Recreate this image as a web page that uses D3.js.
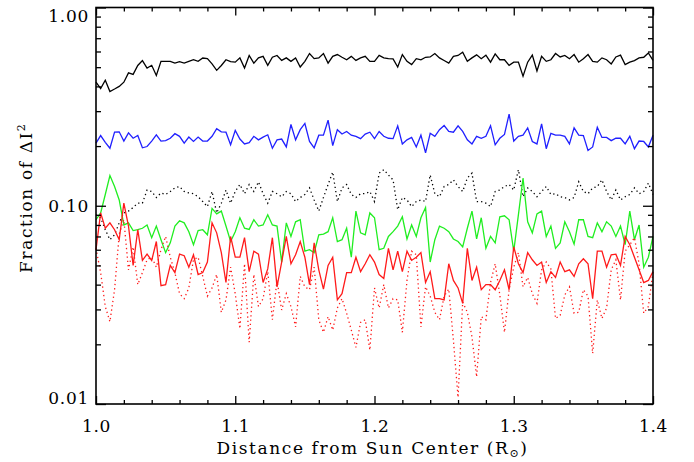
<!DOCTYPE html>
<html>
<head>
<meta charset="utf-8">
<script src="https://cdn.jsdelivr.net/npm/d3@7"></script>
<style>
  body { margin: 0; background: #fff; }
  svg { display: block; }
  .tick text { font-family: "DejaVu Serif", serif; font-size: 17px; letter-spacing: 0.7px; fill: #000; }
</style>
</head>
<body>
<svg id="chart" width="694" height="462"></svg>
<script>
// sampling grid along the radius (R_sun), 121 samples from 1.0 to 1.4
const rStart = 1.0, rEnd = 1.4, nSamples = 121;
const distance = d3.range(nSamples).map(i => rStart + i * (rEnd - rStart) / (nSamples - 1));

// fraction of ΔI²
const blackSolid = [
  0.42,0.39,0.43,0.377,0.388,0.40,0.42,0.468,0.46,0.51,
  0.54,0.495,0.511,0.454,0.535,0.535,0.535,0.524,0.533,0.524,
  0.535,0.545,0.535,0.556,0.552,0.52,0.482,0.51,0.545,0.533,
  0.53,0.557,0.495,0.573,0.524,0.557,0.567,0.511,0.561,0.573,
  0.541,0.557,0.535,0.557,0.501,0.535,0.586,0.552,0.557,0.586,
  0.524,0.567,0.579,0.561,0.545,0.567,0.541,0.557,0.567,0.535,
  0.535,0.573,
  0.557,0.552,0.55,0.501,0.579,0.535,0.515,0.552,0.545,0.561,
  0.563,0.586,0.557,0.54,0.524,0.567,0.573,0.595,0.535,0.557,
  0.577,0.552,0.575,0.53,0.583,0.545,0.545,0.511,0.53,0.53,
  0.45,0.53,0.575,0.478,0.567,0.535,0.545,0.586,0.563,0.573,
  0.552,0.579,0.53,0.552,0.579,0.535,0.53,0.557,0.545,0.519,
  0.563,0.575,0.515,0.53,0.54,0.557,0.561,0.59,0.541
];
const blueSolid = [
  0.207,0.226,0.209,0.195,0.235,0.236,0.212,0.233,0.219,0.226,
  0.196,0.199,0.212,0.228,0.212,0.213,0.219,0.231,0.224,0.207,
  0.222,0.211,0.222,0.212,0.212,0.224,0.245,0.236,0.235,0.203,
  0.240,0.217,0.205,0.208,0.224,0.215,0.222,0.228,0.195,0.215,
  0.217,0.198,0.257,0.215,0.242,0.260,0.211,0.196,0.227,0.227,
  0.270,0.201,0.242,0.230,0.237,0.227,0.224,0.218,0.230,0.235,
  0.218,0.237,
  0.224,0.219,0.218,0.253,0.205,0.215,0.221,0.198,0.227,0.185,
  0.232,0.224,0.242,0.254,0.237,0.235,0.253,0.237,0.215,0.205,
  0.224,0.219,0.224,0.253,0.203,0.219,0.229,0.290,0.212,0.224,
  0.227,0.247,0.211,0.205,0.259,0.194,0.232,0.227,0.227,0.224,
  0.205,0.247,0.227,0.226,0.190,0.198,0.249,0.221,0.221,0.213,
  0.219,0.219,0.205,0.224,0.194,0.212,0.211,0.198,0.227
];
const blackDotted = [
  0.090,0.087,0.0757,0.0674,0.0714,0.082,0.092,0.094,0.098,0.103,
  0.103,0.120,0.118,0.110,0.116,0.114,0.118,0.123,0.125,0.118,
  0.116,0.115,0.111,0.105,0.099,0.118,0.092,0.103,0.120,0.103,
  0.118,0.128,0.115,0.128,0.118,0.132,0.115,0.103,0.118,0.115,
  0.111,0.118,0.115,0.105,0.110,0.114,0.123,0.107,0.094,0.110,
  0.128,0.148,0.105,0.123,0.128,0.114,0.110,0.115,0.115,0.118,
  0.105,0.146,
  0.152,0.143,0.135,0.0955,0.110,0.107,0.099,0.105,0.107,0.105,
  0.143,0.115,0.111,0.125,0.128,0.135,0.125,0.118,0.138,0.146,
  0.105,0.105,0.103,0.099,0.118,0.120,0.125,0.128,0.120,0.152,
  0.111,0.123,0.118,0.111,0.118,0.125,0.114,0.115,0.111,0.110,
  0.107,0.110,0.132,0.118,0.115,0.123,0.125,0.135,0.118,0.107,
  0.120,0.107,0.111,0.114,0.123,0.115,0.118,0.130,0.114
];
const greenSolid = [
  0.085,0.092,0.114,0.142,0.125,0.107,0.080,0.082,0.075,0.0757,
  0.077,0.080,0.069,0.079,0.0674,0.058,0.065,0.079,0.084,0.082,
  0.074,0.0636,0.075,0.0757,0.0714,0.097,0.091,0.094,0.079,0.066,
  0.074,0.087,0.077,0.076,0.085,0.079,0.080,0.090,0.080,0.079,
  0.052,0.082,0.070,0.083,0.085,0.059,0.060,0.058,0.0714,0.072,
  0.074,0.087,0.066,0.0674,0.077,0.055,0.094,0.073,0.0714,0.092,
  0.087,0.060,
  0.061,0.070,0.074,0.079,0.088,0.068,0.080,0.070,0.087,0.098,
  0.052,0.0674,0.079,0.077,0.074,0.068,0.066,0.062,0.077,0.094,
  0.068,0.087,0.061,0.070,0.065,0.088,0.089,0.085,0.059,0.090,
  0.138,0.083,0.073,0.091,0.094,0.070,0.079,0.061,0.065,0.083,
  0.074,0.064,0.085,0.085,0.070,0.069,0.082,0.074,0.083,0.079,
  0.070,0.079,0.0636,0.094,0.0674,0.080,0.049,0.055,0.070
];
const redSolid = [
  0.060,0.092,0.077,0.082,0.0757,0.0674,0.103,0.079,0.050,0.0757,
  0.053,0.057,0.053,0.066,0.0395,0.040,0.050,0.046,0.057,0.056,
  0.049,0.0566,0.045,0.046,0.052,0.082,0.073,0.058,0.041,0.070,
  0.055,0.055,0.069,0.0465,0.059,0.057,0.041,0.048,0.069,0.039,
  0.052,0.070,0.051,0.0566,0.066,0.055,0.040,0.065,0.0475,0.038,
  0.050,0.055,0.0335,0.036,0.046,0.046,0.055,0.0465,0.051,0.0566,
  0.052,0.045,
  0.043,0.061,0.0475,0.059,0.0465,0.059,0.053,0.055,0.058,0.041,
  0.0465,0.034,0.034,0.0335,0.051,0.042,0.0385,0.0322,0.061,0.042,
  0.049,0.0377,0.040,0.040,0.0377,0.042,0.0475,0.0377,0.062,0.051,
  0.046,0.058,0.0534,0.050,0.052,0.041,0.0465,0.0435,0.052,0.0465,
  0.0475,0.044,0.051,0.054,0.051,0.034,0.059,0.059,0.049,0.0566,
  0.057,0.050,0.070,0.0636,0.055,0.0475,0.041,0.042,0.0465
];
const redDotted = [
  0.061,0.046,0.031,0.026,0.0377,0.072,0.085,0.0475,0.062,0.040,
  0.046,0.0534,0.055,0.049,0.060,0.070,0.055,0.046,0.036,0.034,
  0.0385,0.0534,0.055,0.044,0.035,0.0385,0.045,0.029,0.0335,0.049,
  0.036,0.024,0.051,0.0205,0.045,0.031,0.034,0.0465,0.0266,0.042,
  0.0298,0.036,0.031,0.0245,0.044,0.039,0.0377,0.049,0.0266,0.023,
  0.0276,0.0236,0.0305,0.034,0.0287,0.0236,0.0193,0.0258,0.0266,0.0187,
  0.0385,0.0305,
  0.040,0.0305,0.034,0.0335,0.023,0.042,0.059,0.0566,0.0245,0.039,
  0.035,0.029,0.0266,0.035,0.038,0.021,0.0108,0.0327,0.029,0.0218,
  0.0137,0.0276,0.0266,0.041,0.051,0.0355,0.023,0.0377,0.049,0.058,
  0.039,0.0435,0.036,0.0322,0.0475,0.052,0.048,0.027,0.028,0.0355,
  0.039,0.0287,0.029,0.0377,0.035,0.018,0.0335,0.027,0.0305,0.0475,
  0.0534,0.0335,0.059,0.0636,0.069,0.051,0.0287,0.031,0.0465
];

const xMajor = [1.0, 1.1, 1.2, 1.3, 1.4];
const xMinor = [1.02,1.04,1.06,1.08,1.12,1.14,1.16,1.18,1.22,1.24,1.26,1.28,1.32,1.34,1.36,1.38];
const yMajor = [0.01, 0.1, 1.0];
const yMinor = [0.02,0.03,0.04,0.05,0.06,0.07,0.08,0.09,0.2,0.3,0.4,0.5,0.6,0.7,0.8,0.9];

const series = [
  { values: blackSolid,  color: '#000000', dash: null },
  { values: blueSolid,   color: '#2020ff', dash: null },
  { values: blackDotted, color: '#000000', dash: '1.3,3' },
  { values: greenSolid,  color: '#20ee20', dash: null },
  { values: redDotted,   color: '#ff1a1a', dash: '1.3,3' },
  { values: redSolid,    color: '#ff1a1a', dash: null },
];

// plot box
const boxLeft = 96, boxRight = 653, boxTop = 7.5, boxBottom = 404;
const font = '"DejaVu Serif", serif';

const svg = d3.select('#chart');

const x = d3.scaleLinear().domain([rStart, rEnd]).range([boxLeft, boxRight]);
const y = d3.scaleLog().domain([0.01, 1]).range([boxBottom, boxTop]);

const line = d3.line()
  .x((d, i) => x(distance[i]))
  .y(d => y(d));

const plot = svg.append('g');
series.forEach(s => {
  plot.append('path')
    .datum(s.values)
    .attr('fill', 'none')
    .attr('stroke', s.color)
    .attr('stroke-width', 1.3)
    .attr('stroke-linejoin', 'miter')
    .attr('stroke-dasharray', s.dash)
    .attr('d', line);
});

// axes: ticks point inward on all four sides
function tickAxis(axis, transform, size, values, labels) {
  const g = svg.append('g')
    .attr('transform', transform)
    .call(axis.tickValues(values).tickSize(size).tickFormat(labels || ''));
  g.select('.domain').remove();
  g.selectAll('.tick line').attr('stroke', '#000').attr('stroke-width', 1.3);
  return g;
}

const xFmt = d3.format('.1f');
const yFmt = d3.format('.2f');

tickAxis(d3.axisBottom(x).tickPadding(16), `translate(0,${boxBottom})`, -8, xMajor, xFmt);
tickAxis(d3.axisBottom(x), `translate(0,${boxBottom})`, -4, xMinor);
tickAxis(d3.axisTop(x), `translate(0,${boxTop})`, -8, xMajor);
tickAxis(d3.axisTop(x), `translate(0,${boxTop})`, -4, xMinor);

const yAx = tickAxis(d3.axisLeft(y).tickPadding(7), `translate(${boxLeft},0)`, -10, yMajor, yFmt);
// keep end labels inside the box height, as the reference does
yAx.selectAll('.tick text')
  .attr('y', d => {
    const p = y(d);
    return Math.max(boxTop + 8.5 - p, Math.min(0, boxBottom - 6 - p));
  });
tickAxis(d3.axisLeft(y), `translate(${boxLeft},0)`, -5, yMinor);
tickAxis(d3.axisRight(y), `translate(${boxRight},0)`, -10, yMajor);
tickAxis(d3.axisRight(y), `translate(${boxRight},0)`, -5, yMinor);

svg.append('rect')
  .attr('x', boxLeft).attr('y', boxTop)
  .attr('width', boxRight - boxLeft).attr('height', boxBottom - boxTop)
  .attr('fill', 'none').attr('stroke', '#000').attr('stroke-width', 1.6);

// titles
const xt = svg.append('text')
  .attr('x', (boxLeft + boxRight) / 2 - 2).attr('y', 454)
  .attr('text-anchor', 'middle')
  .style('font-family', font).style('font-size', '17px').style('letter-spacing', '1.6px');
xt.append('tspan').text('Distance from Sun Center (R');
xt.append('tspan').attr('dy', 3).style('font-size', '11px').text('\u2299');
xt.append('tspan').attr('dy', -3).text(')');

const yt = svg.append('text')
  .attr('transform', `translate(32,${(boxTop + boxBottom) / 2 - 8}) rotate(-90)`)
  .attr('text-anchor', 'middle')
  .style('font-family', font).style('font-size', '17px').style('letter-spacing', '1.6px');
yt.append('tspan').text('Fraction of \u0394I');
yt.append('tspan').attr('dy', -7).style('font-size', '11px').text('2');
</script>
</body>
</html>
